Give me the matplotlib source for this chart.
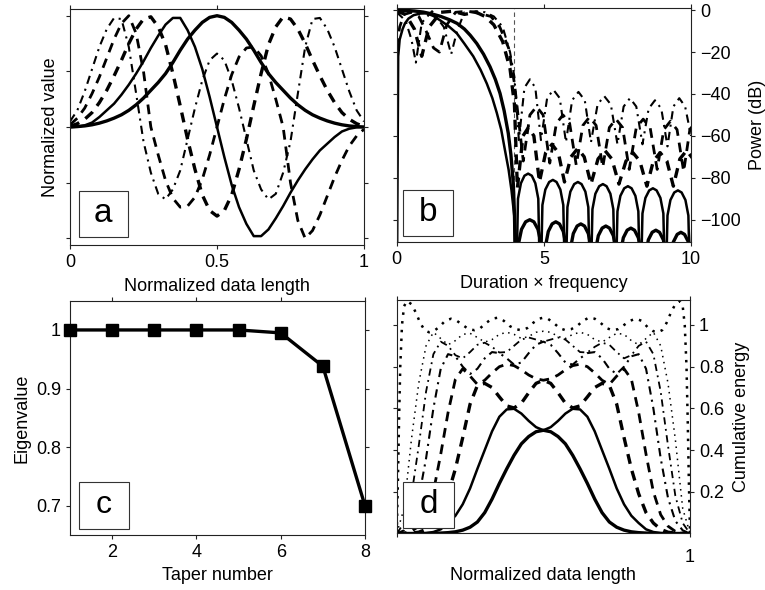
import numpy as np
import matplotlib.pyplot as plt
from matplotlib.patches import Rectangle

plt.rcParams['font.family'] = ['Liberation Sans', 'DejaVu Sans']
plt.rcParams['font.size'] = 13
plt.rcParams['axes.edgecolor'] = '#222222'
plt.rcParams['axes.linewidth'] = 0.8

# ---- panel a: first five tapers (normalized) ----
xa = np.linspace(0, 1, 41)
taper1 = [0, .004, .01, .02, .035, .055, .08, .11, .15, .2, .26, .33, .40, .48, .58, .69, .79, .87, .94, .985, 1.0,
          .985, .94, .87, .79, .69, .58, .48, .40, .33, .26, .2, .15, .11, .08, .055, .035, .02, .01, .004, 0]
taper2 = [0, .003, .015, .04, .09, .15, .21, .29, .38, .48, .59, .71, .82, .92, .98, .98, .87, .72, .52, .27, 0,
          -.27, -.52, -.72, -.87, -.98, -.98, -.92, -.82, -.71, -.59, -.48, -.38, -.29, -.21, -.15, -.09, -.04, -.015, -.003, 0]
taper3 = [.005, .03, .07, .13, .22, .33, .46, .6, .75, .88, .97, .99, .9, .74, .48, .19, -.11, -.38, -.61, -.75, -.8,
          -.75, -.61, -.38, -.11, .19, .48, .74, .9, .99, .97, .88, .75, .6, .46, .33, .22, .13, .07, .03, .005]
taper4 = [.02, .08, .17, .3, .45, .62, .79, .93, 1.0, .84, .5, 0, -.25, -.48, -.64, -.72, -.71, -.63, -.47, -.25, 0,
          .25, .47, .63, .71, .72, .64, .48, .25, 0, -.5, -.84, -1.0, -.93, -.79, -.62, -.45, -.3, -.17, -.08, -.02]
taper5 = [.05, .15, .32, .52, .72, .88, .98, .97, .72, .3, -.13, -.41, -.6, -.65, -.56, -.39, -.11, .17, .42, .6, .66,
          .6, .42, .17, -.11, -.39, -.56, -.65, -.6, -.41, -.13, .3, .72, .97, .98, .88, .72, .52, .32, .15, .05]

# ---- panel b: power spectra (dB) ----
spec1_x = [0, 0.3, 0.6, 0.9, 1.2, 1.5, 1.8, 2.05, 2.3, 2.5, 2.72, 2.95, 3.17, 3.35, 3.51, 3.65, 3.79, 3.88, 3.96, 4.0, 4.06,
           4.13, 4.24, 4.38, 4.52, 4.66, 4.80, 4.91, 4.98,
           5.05, 5.15, 5.28, 5.405, 5.53, 5.66, 5.76, 5.83,
           5.90, 6.0, 6.13, 6.255, 6.38, 6.51, 6.61, 6.68,
           6.75, 6.85, 6.98, 7.105, 7.23, 7.36, 7.46, 7.53,
           7.60, 7.70, 7.83, 7.955, 8.08, 8.21, 8.31, 8.38,
           8.45, 8.55, 8.68, 8.805, 8.93, 9.06, 9.16, 9.23,
           9.30, 9.40, 9.53, 9.655, 9.78, 9.91, 10.01, 10.08]
spec1_y = [0, -0.1, -0.4, -0.9, -1.8, -3, -4.6, -6.3, -9, -12, -15.9, -21, -27, -33, -39.7, -48, -58.7, -69, -82.5, -97, -140,
           -112, -104.6, -101, -100, -101, -104.6, -112, -140,
           -113, -105.6, -102, -101, -102, -105.6, -113, -140,
           -114, -106.6, -103, -102, -103, -106.6, -114, -140,
           -115, -107.6, -104, -103, -104, -107.6, -115, -140,
           -116, -108.6, -105, -104, -105, -108.6, -116, -140,
           -117, -109.6, -106, -105, -106, -109.6, -117, -140,
           -118, -110.6, -107, -106, -107, -110.6, -118, -140]
spec2_x = [0, 0.035, 0.05, 0.1, 0.2, 0.28, 0.4, 0.57, 0.8, 1.02, 1.25, 1.47, 1.75, 2.04, 2.3, 2.6, 2.85, 3.06, 3.25,
           3.4, 3.55, 3.68, 3.8, 3.9, 4.0, 4.05,
           4.12, 4.22, 4.34, 4.465, 4.59, 4.71, 4.81, 4.88,
           4.95, 5.05, 5.18, 5.305, 5.43, 5.56, 5.66, 5.73,
           5.80, 5.90, 6.03, 6.155, 6.28, 6.41, 6.51, 6.58,
           6.65, 6.75, 6.88, 7.005, 7.13, 7.26, 7.36, 7.43,
           7.50, 7.60, 7.73, 7.855, 7.98, 8.11, 8.21, 8.28,
           8.35, 8.45, 8.58, 8.705, 8.83, 8.96, 9.06, 9.13,
           9.20, 9.30, 9.43, 9.555, 9.68, 9.81, 9.91, 9.98,
           10.05, 10.15]
spec2_y = [-150, -60, -22, -14, -9, -6.3, -4, -2.4, -1.6, -1.5, -2.8, -4.8, -7.5, -11, -16, -22, -28.5, -35, -42,
           -49, -57, -67, -76, -86, -99, -140,
           -90, -82.6, -79, -78, -79, -82.6, -90, -140,
           -93, -85.6, -82, -81, -82, -85.6, -93, -140,
           -94, -86.6, -83, -82, -83, -86.6, -94, -140,
           -95, -87.6, -84, -83, -84, -87.6, -95, -140,
           -96, -88.6, -85, -84, -85, -88.6, -96, -140,
           -97, -89.6, -86, -85, -86, -89.6, -97, -140,
           -98, -90.6, -87, -86, -87, -90.6, -98, -140,
           -99, -91]
spec3_x = [0, 0.3, 0.6, 0.85, 1.1, 1.5, 1.9, 2.3, 2.7, 3.0, 3.3, 3.6, 3.85, 4.0, 4.1,
           4.29, 4.475, 4.66, 4.85, 5.06, 5.275, 5.49, 5.7, 5.92, 6.15, 6.37, 6.6, 6.84, 7.075, 7.31, 7.55,
           7.79, 8.025, 8.26, 8.5, 8.72, 8.95, 9.18, 9.4, 9.62, 9.85, 10.07, 10.3]
spec3_y = [-0.5, -2, -9, -22, -8, -1, -0.5, -2, -1, -3, -7, -15, -28, -45, -85,
           -60, -56, -60, -82, -68, -64, -68, -82, -70, -66, -70, -83, -71, -67, -71, -83,
           -72, -68, -72, -84, -72, -68, -72, -84, -71, -67, -71, -84]
spec4_x = [0, 0.1, 0.25, 0.5, 0.75, 1.0, 1.25, 1.45, 1.7, 2.0, 2.4, 2.8, 3.2, 3.5, 3.8, 4.0, 4.3,
           4.525, 4.75, 4.975, 5.2, 5.425, 5.65, 5.875, 6.1, 6.325, 6.55, 6.775, 7.0, 7.225, 7.45, 7.675, 7.9,
           8.14, 8.375, 8.61, 8.85, 9.075, 9.3, 9.525, 9.75, 9.96, 10.175]
spec4_y = [-18, -8, -2, -1, -3, -10, -18, -20, -7, -1, -0.5, -1.5, -3, -8, -18, -35, -72,
           -50, -46, -50, -73, -54, -50, -54, -74, -55, -51, -55, -75, -56, -52, -56, -76,
           -56, -52, -56, -76, -57, -53, -57, -77, -57, -53]
spec5_x = [0, 0.3, 0.5, 0.65, 0.85, 1.2, 1.6, 1.85, 2.05, 2.3, 2.7, 3.0, 3.3, 3.6, 3.85, 4.0, 4.15,
           4.34, 4.525, 4.71, 4.9, 5.11, 5.325, 5.54, 5.75, 5.96, 6.175, 6.39, 6.6, 6.825, 7.05, 7.275, 7.5,
           7.71, 7.925, 8.14, 8.35, 8.56, 8.775, 8.99, 9.2, 9.4, 9.6, 9.8, 10.0]
spec5_y = [-1, -5, -14, -25, -6, -0.5, -8, -21, -10, -1, -0.5, -1, -3, -8, -20, -32, -62,
           -37, -33, -37, -62, -42, -38, -42, -63, -43, -39, -43, -63, -45, -41, -45, -64,
           -46, -42, -46, -64, -47, -43, -47, -65, -46, -42, -46, -60]

# ---- panel c: eigenvalues ----
taper_num = [1, 2, 3, 4, 5, 6, 7, 8]
eigval = [1.0, 1.0, 1.0, 1.0, 1.0, 0.995, 0.938, 0.70]

# ---- panel d: cumulative energy ----
xd = np.linspace(0, 1, 41)
cum1 = [0, 0, 0, 0, 0, .001, .002, .004, .008, .016, .03, .055, .10, .165, .24, .31, .375, .43, .465, .488, .495,
        .488, .465, .43, .375, .31, .24, .165, .10, .055, .03, .016, .008, .004, .002, .001, 0, 0, 0, 0, 0]
cum2 = [0, 0, 0, 0, .002, .007, .02, .05, .085, .14, .216, .31, .40, .49, .56, .595, .598, .575, .54, .51, .495,
        .51, .54, .575, .598, .595, .56, .49, .40, .31, .216, .14, .085, .05, .02, .007, .002, 0, 0, 0, 0]
cum3 = [0, 0, .002, .006, .02, .05, .10, .19, .31, .46, .62, .71, .72, .70, .655, .612, .602, .625, .675, .72, .735,
        .72, .675, .625, .602, .612, .655, .70, .72, .71, .62, .46, .31, .19, .10, .05, .02, .006, .002, 0, 0]
cum4 = [0, .002, .01, .035, .09, .2, .38, .58, .74, .79, .755, .715, .735, .77, .80, .812, .805, .785, .76, .742, .735,
        .742, .76, .785, .805, .812, .80, .77, .735, .715, .755, .79, .74, .58, .38, .2, .09, .035, .01, .002, 0]
cum5 = [0, .015, .06, .17, .36, .60, .79, .86, .85, .80, .765, .79, .84, .87, .865, .84, .81, .82, .865, .905, .92,
        .905, .865, .82, .81, .84, .865, .87, .84, .79, .765, .80, .85, .86, .79, .60, .36, .17, .06, .015, 0]
cum6 = [0, .05, .18, .42, .68, .86, .92, .90, .855, .84, .87, .905, .915, .895, .868, .87, .9, .93, .94, .93, .92,
        .93, .94, .93, .9, .87, .868, .895, .915, .905, .87, .84, .855, .90, .92, .86, .68, .42, .18, .05, 0]
cum7 = [0, .12, .45, .72, .9, .965, .935, .905, .925, .955, .96, .94, .918, .93, .955, .965, .955, .935, .945, .965, .97,
        .965, .945, .935, .955, .965, .955, .93, .918, .94, .96, .955, .925, .905, .935, .965, .9, .72, .45, .12, 0]
cum8_x = [0, .004, .008, .012, .018, .025, .035, .05, .065, .08, .095, .11, .125, .145, .165, .185, .205, .225, .245,
          .265, .285, .305, .325, .345, .365, .385, .405, .425, .445, .465, .485, .5,
          .515, .535, .555, .575, .595, .615, .635, .655, .675, .695, .715, .735, .755, .775, .795, .815, .835,
          .855, .875, .89, .905, .92, .935, .95, .965, .975, .982, .988, .992, .996, 1.0]
cum8 = [0, .25, .55, .8, 1.0, 1.09, 1.115, 1.1, 1.06, 1.01, .975, .965, .97, .99, 1.02, 1.03, 1.02, 1.0, .98,
        .975, .985, 1.01, 1.03, 1.035, 1.02, .995, .98, .975, .985, 1.01, 1.03, 1.035,
        1.03, 1.01, .985, .975, .98, .995, 1.02, 1.035, 1.03, 1.01, .985, .975, .98, 1.0, 1.02, 1.03, 1.02,
        .99, .97, .965, .975, 1.01, 1.06, 1.1, 1.115, 1.09, 1.0, .8, .55, .25, 0]

DASH = (0, (3, 2.2))
DASH2 = (0, (3.5, 2.5))
DASHDOT = (0, (4, 2.5, 1, 2.5))


def panel_label(ax, letter, x0, y0, w, h, size=24):
    ax.add_patch(Rectangle((x0, y0), w, h, transform=ax.transAxes, facecolor='white',
                           edgecolor='#333333', lw=0.8, zorder=5))
    ax.text(x0 + w / 2, y0 + h / 2, letter, transform=ax.transAxes, ha='center',
            va='center', fontsize=size, zorder=6)


def style(ax):
    ax.tick_params(direction='out', length=3, width=0.8, top=True, right=True,
                   colors='#222222', labelcolor='black')


fig = plt.figure(figsize=(7.65, 5.9), dpi=100)

#%% a
ax = fig.add_axes([0.0915, 0.5847, 0.3843, 0.4])
ax.plot(xa, taper1, color='k', lw=2.4)
ax.plot(xa, taper2, color='k', lw=1.8)
ax.plot(xa, taper3, color='k', lw=2.4, ls=DASH)
ax.plot(xa, taper4, color='k', lw=2.0, ls=DASH2)
ax.plot(xa, taper5, color='k', lw=1.5, ls=DASHDOT)
ax.set_xlim(0, 1)
ax.set_ylim(-1.06, 1.06)
ax.set_xticks([0, 0.5, 1])
ax.set_xticklabels(['0', '0.5', '1'])
ax.set_yticks([-1, -0.5, 0, 0.5, 1])
style(ax)
ax.tick_params(labelleft=False)
ax.set_xlabel('Normalized data length', labelpad=5)
ax.set_ylabel('Normalized value', labelpad=5)
panel_label(ax, 'a', 0.03, 0.033, 0.166, 0.197)

#%% b
ax = fig.add_axes([0.5186, 0.5903, 0.3847, 0.396])
ax.axvline(4, color='#555555', lw=0.8, ls=(0, (4, 3)))
ax.plot(spec1_x, spec1_y, color='k', lw=2.4)
ax.plot(spec2_x, spec2_y, color='k', lw=1.8)
ax.plot(spec3_x, spec3_y, color='k', lw=2.4, ls=DASH)
ax.plot(spec4_x, spec4_y, color='k', lw=2.0, ls=DASH2)
ax.plot(spec5_x, spec5_y, color='k', lw=1.5, ls=DASHDOT)
ax.set_xlim(0, 10)
ax.set_ylim(-110.5, 1)
ax.set_xticks([0, 5, 10])
ax.set_yticks([-100, -80, -60, -40, -20, 0])
ax.set_yticklabels(['\u2212100', '\u221280', '\u221260', '\u221240', '\u221220', '0'])
style(ax)
ax.tick_params(labelleft=False, labelright=True)
ax.yaxis.set_label_position('right')
ax.set_ylabel('Power (dB)', labelpad=6)
ax.set_xlabel('Duration \u00d7 frequency', labelpad=5)
panel_label(ax, 'b', 0.022, 0.023, 0.17, 0.2)

#%% c
ax = fig.add_axes([0.0915, 0.0932, 0.3856, 0.3972])
ax.plot(taper_num, eigval, color='k', lw=2.4, marker='s', ms=8, mfc='k', mec='k',
        clip_on=False, zorder=4)
ax.set_xlim(1, 8)
ax.set_ylim(0.65, 1.05)
ax.set_xticks([2, 4, 6, 8])
ax.set_yticks([0.7, 0.8, 0.9, 1.0])
ax.set_yticklabels(['0.7', '0.8', '0.9', '1'])
style(ax)
ax.set_xlabel('Taper number', labelpad=4)
ax.set_ylabel('Eigenvalue', labelpad=4)
panel_label(ax, 'c', 0.03, 0.024, 0.17, 0.204, size=23)

#%% d
ax = fig.add_axes([0.5186, 0.0958, 0.3834, 0.3958])
ax.plot(xd, cum1, color='k', lw=2.4)
ax.plot(xd, cum2, color='k', lw=1.8)
ax.plot(xd, cum3, color='k', lw=2.4, ls=DASH)
ax.plot(xd, cum4, color='k', lw=2.0, ls=DASH2)
ax.plot(xd, cum5, color='k', lw=1.5, ls=DASHDOT)
ax.plot(xd, cum6, color='k', lw=1.3, ls=DASHDOT)
ax.plot(xd, cum7, color='k', lw=1.1, ls=(0, (1, 3)))
ax.plot(cum8_x, cum8, color='k', lw=1.8, ls=(0, (1, 2.5)))
ax.set_xlim(0, 1)
ax.set_ylim(0, 1.12)
ax.set_xticks([0, 1])
ax.set_xticklabels(['', '1'])
ax.set_yticks([0.2, 0.4, 0.6, 0.8, 1.0])
ax.set_yticklabels(['0.2', '0.4', '0.6', '0.8', '1'])
style(ax)
ax.tick_params(labelleft=False, labelright=True)
ax.tick_params(axis='x', pad=8)
ax.yaxis.set_label_position('right')
ax.set_ylabel('Cumulative energy', labelpad=6)
ax.set_xlabel('Normalized data length', labelpad=1)
panel_label(ax, 'd', 0.022, 0.022, 0.173, 0.2)

fig.savefig('out.png', dpi=100)
